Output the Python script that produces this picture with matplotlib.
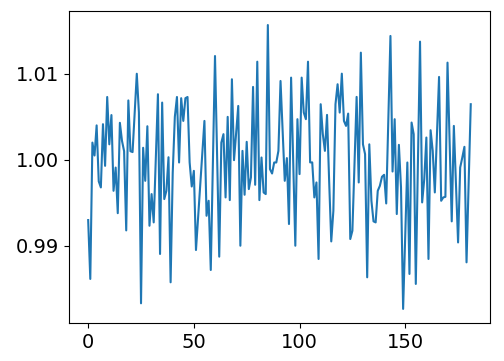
import matplotlib
matplotlib.use("Agg")
import matplotlib.pyplot as plt
import numpy as np

values = [
    0.99300, 0.98616, 1.00200, 1.00050, 1.00400, 0.99750, 0.99679, 1.00414, 0.99930, 1.00730,
    1.00180, 1.00520, 0.99640, 0.99910, 0.99380, 1.00430, 1.00220, 1.00100, 0.99180, 1.00690,
    1.00100, 1.00090, 1.00550, 1.01000, 1.00550, 0.98333, 1.00140, 0.99756, 1.00390, 0.99234,
    0.99602, 0.99273, 1.00030, 1.00762, 0.98906, 1.00665, 0.99544, 0.99640, 1.00030, 0.98577,
    0.99850, 1.00500, 1.00730, 0.99969, 1.00716, 1.00452, 1.00716, 1.00730, 0.99970, 0.99690,
    0.99872, 0.98952, 0.99330, 0.99710, 1.00080, 1.00452, 0.99350, 0.99524, 0.98720, 0.99960,
    1.01206, 1.00040, 0.98875, 1.00200, 1.00298, 0.99563, 1.00499, 0.99532, 1.00936, 0.99996,
    1.00310, 1.00626, 0.99002, 1.00104, 0.99594, 1.00209, 0.99660, 0.99795, 1.00847, 0.99710,
    1.01140, 0.99532, 1.00027, 0.99621, 0.99602, 1.01566, 0.99892, 0.99841, 0.99969, 0.99969,
    1.00104, 1.00916, 1.00340, 0.99756, 1.00020, 0.99254, 1.00955, 0.99980, 0.99002, 1.00472,
    0.99834, 1.00955, 1.00550, 1.00472, 1.01140, 0.99970, 0.99970, 0.99563, 0.99737, 0.98848,
    1.00646, 1.00300, 1.00104, 1.00522, 0.99756, 0.99052, 0.99408, 1.00646, 1.00878, 1.00549,
    1.01001, 1.00452, 1.00394, 1.00537, 0.99080, 0.99176, 0.99950, 1.00731, 0.99737, 1.01245,
    1.00180, 1.00066, 0.98635, 1.00180, 0.99524, 0.99285, 0.99273, 0.99640, 0.99698, 0.99803,
    0.99826, 0.99493, 1.00470, 1.01439, 0.99864, 1.00472, 0.99370, 1.00174, 0.99679, 0.98268,
    0.99120, 0.99969, 0.98674, 1.00433, 1.00298, 0.98558, 0.99970, 1.01373, 0.99505, 0.99776,
    1.00259, 0.98848, 1.00344, 1.00104, 0.99621, 1.00290, 1.00963, 0.99524, 0.99563, 0.99570,
    1.01129, 1.00210, 0.99285, 1.00394, 0.99718, 0.99040, 0.99911, 1.00027, 1.00151, 0.98809,
    0.99730, 1.00646,
]
x = np.arange(len(values))

fig = plt.figure(figsize=(5.04, 3.61), dpi=100)
ax = fig.add_axes([0.137, 0.105, 0.835, 0.865])
ax.plot(x, values, color="#1f77b4", linewidth=1.5)
ax.set_xticks([0, 50, 100, 150])
ax.set_yticks([0.99, 1.00, 1.01])
ax.set_yticklabels(["0.99", "1.00", "1.01"])
ax.tick_params(labelsize=14)
fig.savefig("out.png", dpi=100)
